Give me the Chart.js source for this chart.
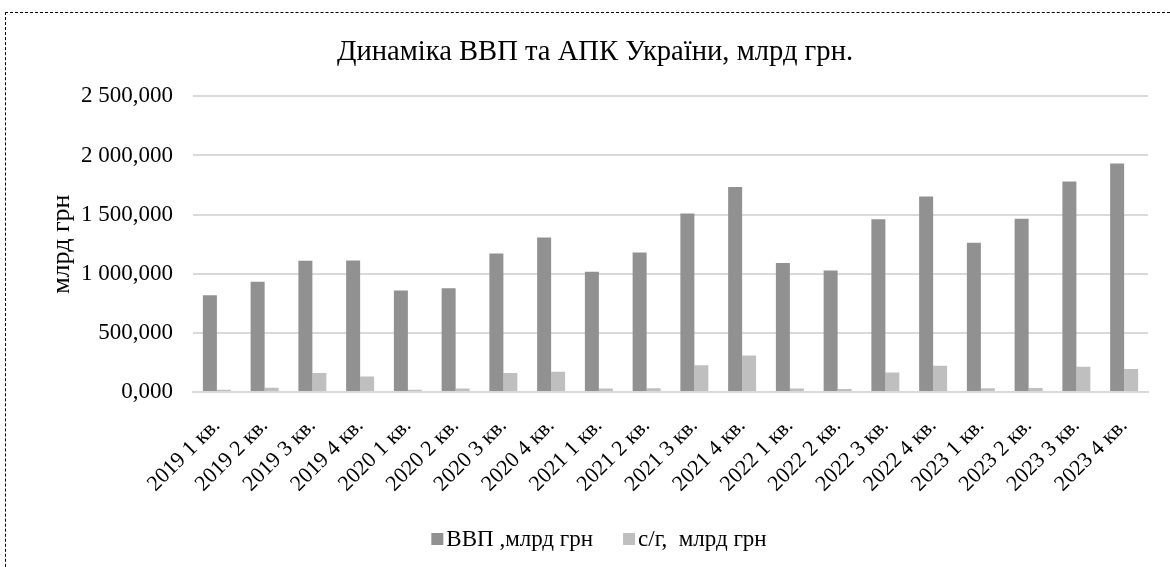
<!DOCTYPE html>
<html>
<head>
<meta charset="utf-8">
<script src="https://cdn.jsdelivr.net/npm/chart.js@4"></script>
<style>
  html, body { margin: 0; padding: 0; background: #fff; overflow: hidden; }
  #wrap { position: relative; width: 1170px; height: 567px; }
  #frame { position: absolute; left: 5px; top: 12px; width: 1180px; height: 600px; border: 1px dashed #000; box-sizing: border-box; }
  canvas { position: absolute; left: 0; top: 0; }
</style>
</head>
<body>
<div id="wrap">
  <div id="frame"></div>
  <canvas id="c" width="1170" height="567"></canvas>
</div>
<script>
const categories = ["2019 1 кв.","2019 2 кв.","2019 3 кв.","2019 4 кв.","2020 1 кв.","2020 2 кв.","2020 3 кв.","2020 4 кв.","2021 1 кв.","2021 2 кв.","2021 3 кв.","2021 4 кв.","2022 1 кв.","2022 2 кв.","2022 3 кв.","2022 4 кв.","2023 1 кв.","2023 2 кв.","2023 3 кв.","2023 4 кв."];
const gdpValues = [818, 932, 1110, 1112, 858, 878, 1171, 1307, 1016, 1180, 1510, 1733, 1090, 1028, 1460, 1654, 1262, 1465, 1779, 1931];
const agroValues = [20, 36, 161, 130, 20, 29, 161, 172, 29, 31, 226, 308, 29, 25, 164, 223, 31, 33, 214, 195];
const seriesNames = ["ВВП ,млрд грн", "с/г,  млрд грн"];
const yTicks = [0, 500, 1000, 1500, 2000, 2500];

const FONT = "'Liberation Serif', 'Times New Roman', serif";

function fmt(v) {
  const s = Math.round(v).toString().replace(/\B(?=(\d{3})+(?!\d))/g, " ");
  return s + ",000";
}

// Legend drawn in Excel style: small square, tight gap, text
const excelLegend = {
  id: 'excelLegend',
  afterDraw(chart) {
    const ctx = chart.ctx;
    const ds = chart.data.datasets;
    const fontSize = 23, box = 12, gap = 3, itemGap = 30, cy = 539;
    ctx.save();
    ctx.font = fontSize + "px " + FONT;
    ctx.textBaseline = 'middle';
    ctx.textAlign = 'left';
    const widths = ds.map(d => box + gap + ctx.measureText(d.label).width);
    const total = widths.reduce((a, b) => a + b, 0) + itemGap * (ds.length - 1);
    let x = 599 - total / 2;
    ds.forEach((d, i) => {
      ctx.fillStyle = d.backgroundColor;
      ctx.fillRect(x, cy - box / 2, box, box);
      ctx.fillStyle = '#000';
      ctx.fillText(d.label, x + box + gap, cy + 1);
      x += widths[i] + itemGap;
    });
    ctx.restore();
  }
};

new Chart(document.getElementById('c'), {
  type: 'bar',
  data: {
    labels: categories,
    datasets: [
      { label: seriesNames[0], data: gdpValues, backgroundColor: '#919191', borderWidth: 0 },
      { label: seriesNames[1], data: agroValues, backgroundColor: '#bfbfbf', borderWidth: 0 }
    ]
  },
  plugins: [excelLegend],
  options: {
    responsive: false,
    animation: false,
    devicePixelRatio: 1,
    layout: { padding: { left: 42, right: 22, top: 10, bottom: 0 } },
    datasets: { bar: { categoryPercentage: 0.586, barPercentage: 1.0 } },
    plugins: {
      title: {
        display: true,
        text: 'Динаміка ВВП та АПК України, млрд грн.',
        color: '#000',
        font: { family: FONT, size: 28.6, weight: 'normal' },
        padding: { top: 25, bottom: 27 }
      },
      legend: { display: false },
      tooltip: { enabled: false }
    },
    scales: {
      x: {
        afterFit: (axis) => { axis.height = 175; },
        grid: { display: false, drawTicks: false },
        border: { display: true, color: '#d9d9d9', width: 2 },
        ticks: {
          color: '#000',
          font: { family: FONT, size: 22 },
          maxRotation: 45, minRotation: 45,
          autoSkip: false,
          padding: 21
        }
      },
      y: {
        min: 0, max: 2500,
        afterFit: (axis) => { axis.width = 151; },
        afterBuildTicks: (axis) => { axis.ticks = yTicks.map(v => ({ value: v })); },
        grid: { color: '#d9d9d9', lineWidth: 2, drawTicks: false },
        border: { display: false },
        ticks: {
          color: '#000',
          font: { family: FONT, size: 23 },
          padding: 20,
          callback: (v) => fmt(v)
        },
        title: {
          display: true,
          text: 'млрд грн',
          color: '#000',
          font: { family: FONT, size: 26 },
          padding: { top: 5, bottom: 0 }
        }
      }
    }
  }
});
</script>
</body>
</html>
